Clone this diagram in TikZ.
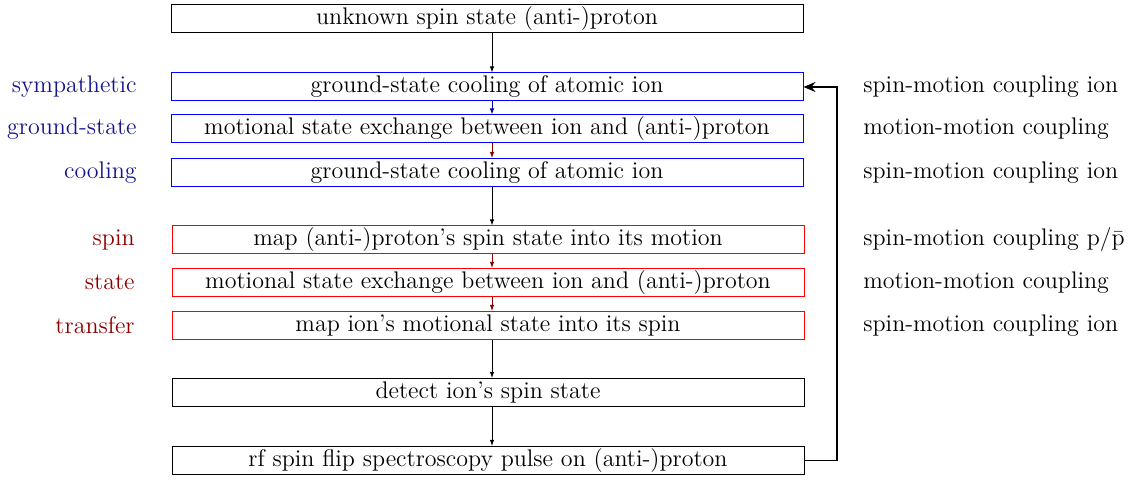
\documentclass[tikz,border=0pt]{standalone}
\usetikzlibrary{arrows.meta}
\definecolor{dblue}{rgb}{0.08,0.08,0.55}
\definecolor{dred}{rgb}{0.55,0,0}
\definecolor{bblue}{rgb}{0,0,1}
\definecolor{rred}{rgb}{1,0,0}
\definecolor{ablue}{rgb}{0,0,0.7}
\begin{document}
\begin{tikzpicture}[x=0.5pt,y=-0.5pt,
  base/.style={minimum width=316pt,minimum height=14pt,inner sep=0pt,font=\fontsize{12}{14}\selectfont,line width=0.5pt},
  box/.style={base,draw=black},
  bbox/.style={base,draw=bblue},
  rbox/.style={base,draw=rred},
  llab/.style={anchor=east,inner sep=0pt,font=\fontsize{12}{14}\selectfont},
  rlab/.style={anchor=west,inner sep=0pt,font=\fontsize{12}{14}\selectfont},
  arr/.style={-{Latex[length=3pt,width=2.2pt]},line width=0.45pt}]
\useasboundingbox (0,0) rectangle (1132,480);
\node[box] (n1) at (487,19) {unknown spin state (anti-)proton};
\node[bbox] (n2) at (487,87) {ground-state cooling of atomic ion};
\node[bbox] (n3) at (487,129) {motional state exchange between ion and (anti-)proton};
\node[bbox] (n4) at (487,172.5) {ground-state cooling of atomic ion};
\node[rbox] (n5) at (488,240) {map (anti-)proton's spin state into its motion};
\node[rbox] (n6) at (488,282.5) {motional state exchange between ion and (anti-)proton};
\node[rbox] (n7) at (488,325.5) {map ion's motional state into its spin};
\node[box] (n8) at (488,392.5) {detect ion's spin state};
\node[box] (n9) at (488,460.5) {rf spin flip spectroscopy pulse on (anti-)proton};
\node[llab,text=dblue] (l1) at (137,87) {sympathetic};
\node[llab,text=dblue] (l2) at (137,129) {ground-state};
\node[llab,text=dblue] (l3) at (137,172.5) {cooling};
\node[llab,text=dred] (l4) at (135,240) {spin};
\node[llab,text=dred] (l5) at (135,282.5) {state};
\node[llab,text=dred] (l6) at (135,325.5) {transfer};
\node[rlab] (r1) at (863,87) {spin-motion coupling ion};
\node[rlab] (r2) at (863,129) {motion-motion coupling};
\node[rlab] (r3) at (863,172.5) {spin-motion coupling ion};
\node[rlab] (r4) at (863,240) {spin-motion coupling p/$\bar{\mathrm{p}}$};
\node[rlab] (r5) at (863,282.5) {motion-motion coupling};
\node[rlab] (r6) at (863,325.5) {spin-motion coupling ion};
\coordinate (x0) at (492,0);
\draw[arr] (n1.south -| x0) -- (n2.north -| x0);
\draw[arr,ablue] (n2.south -| x0) -- (n3.north -| x0);
\draw[arr,dred] (n3.south -| x0) -- (n4.north -| x0);
\draw[arr] (n4.south -| x0) -- (n5.north -| x0);
\draw[arr,dred] (n5.south -| x0) -- (n6.north -| x0);
\draw[arr,dred] (n6.south -| x0) -- (n7.north -| x0);
\draw[arr] (n7.south -| x0) -- (n8.north -| x0);
\draw[arr] (n8.south -| x0) -- (n9.north -| x0);
\coordinate (c1) at (837,460.5);
\coordinate (c2) at (837,87);
\draw[-{Stealth[length=6pt,width=5pt,inset=2pt]},line width=0.8pt] (n9.east) -- (c1) -- (c2) -- (n2.east);
\end{tikzpicture}
\end{document}
